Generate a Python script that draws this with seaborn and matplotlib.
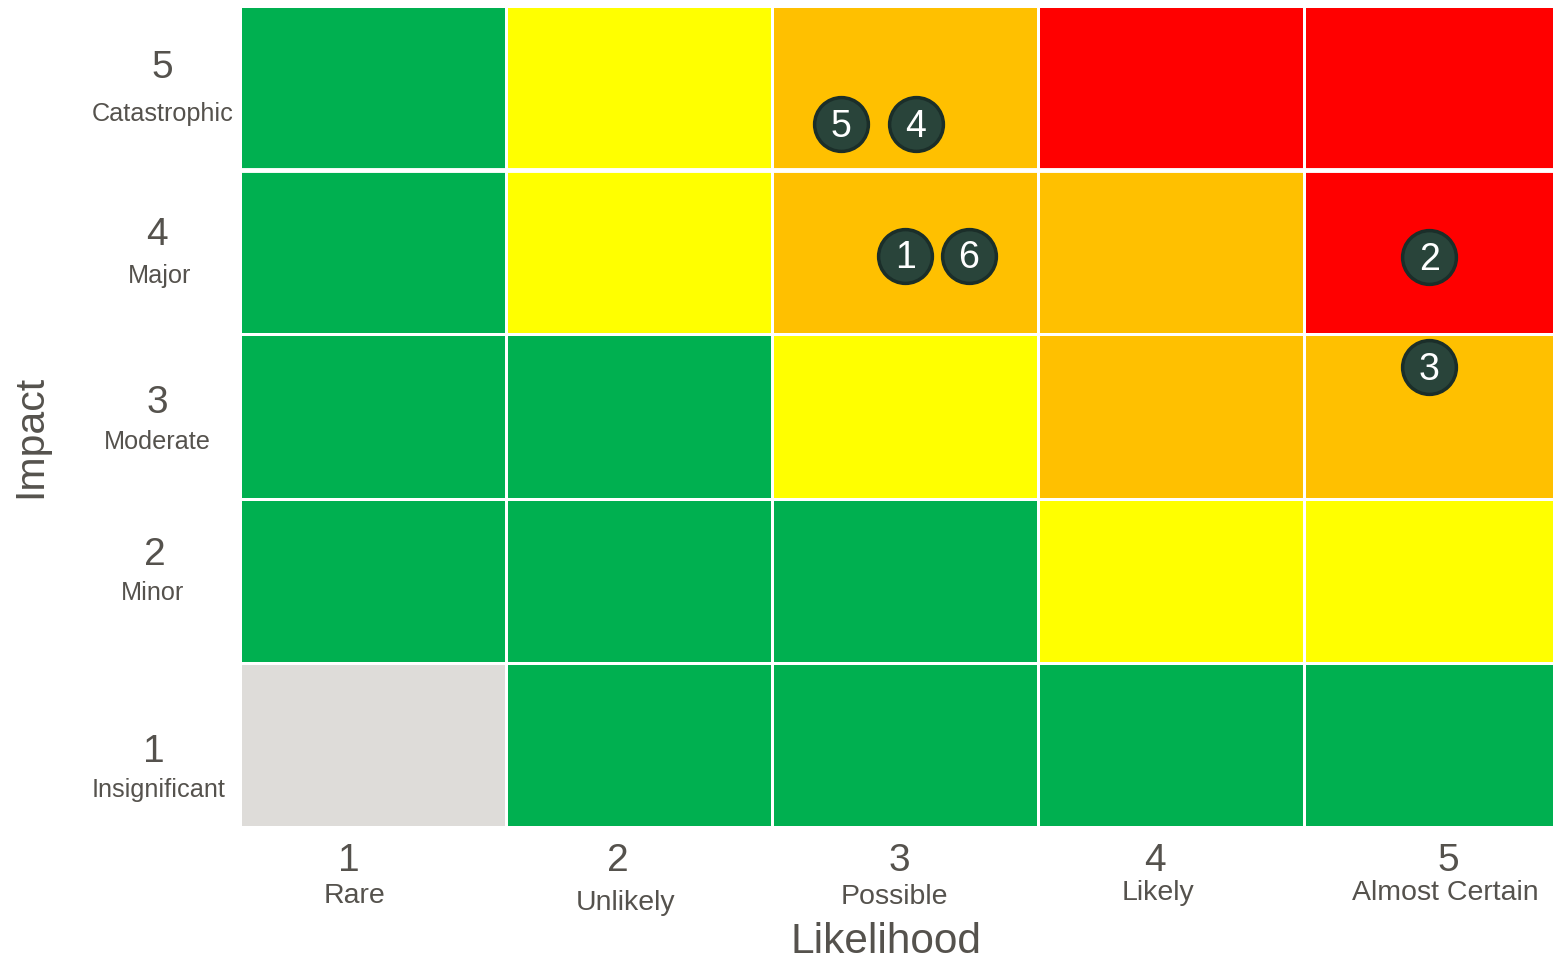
import numpy as np
import pandas as pd
import matplotlib
matplotlib.use("Agg")
import matplotlib.pyplot as plt
from matplotlib.colors import ListedColormap
import seaborn as sns

sns.set_theme(style="white")
plt.rcParams['font.family'] = ['Liberation Sans', 'DejaVu Sans']

# Risk matrix levels: 0 = n/a (grey), 1 = low, 2 = medium, 3 = high, 4 = extreme
likelihood_nums = ['1', '2', '3', '4', '5']
likelihood_names = ['Rare', 'Unlikely', 'Possible', 'Likely', 'Almost Certain']
impact_nums = ['5', '4', '3', '2', '1']
impact_names = ['Catastrophic', 'Major', 'Moderate', 'Minor', 'Insignificant']

level_rows = [
    [1, 2, 3, 4, 4],  # impact 5
    [1, 2, 3, 3, 4],  # impact 4
    [1, 1, 2, 3, 3],  # impact 3
    [1, 1, 1, 2, 2],  # impact 2
    [0, 1, 1, 1, 1],  # impact 1
]
level_colors = ['#DEDCD9', '#00B050', '#FFFF00', '#FFC000', '#FF0000']

# risks placed on the matrix (positions)
risk_ids = ['5', '4', '1', '6', '2', '3']
risk_likelihood = [2.76, 3.04, 3.00, 3.24, 4.97, 4.97]
risk_impact = [4.78, 4.78, 3.98, 3.98, 3.97, 3.30]

text_col = '#55524D'

# label placement tweaks (the original labels sit a little unevenly)
x_num_pos = [0.41, 1.42, 2.48, 3.44, 4.54]
x_name_pos = [0.43, 1.45, 2.46, 3.45, 4.53]
x_name_y = [-0.083, -0.091, -0.084, -0.079, -0.079]
y_num_pos = [0.37, 1.39, 2.41, 3.34, 4.54]
y_name_pos = [0.65, 1.64, 2.65, 3.57, 4.77]
y_num_x = [-0.059, -0.063, -0.063, -0.065, -0.066]
y_name_x = [-0.059, -0.061, -0.063, -0.067, -0.062]

matrix = pd.DataFrame(level_rows, index=impact_nums, columns=likelihood_nums)

fig = plt.figure(figsize=(15.53, 9.62), dpi=100)
ax = fig.add_axes([240 / 1553, 1 - 828 / 962, 1 - 240 / 1553, 821 / 962])

sns.heatmap(matrix, cmap=ListedColormap(level_colors), vmin=-0.5, vmax=4.5,
            cbar=False, linewidths=1.0, linecolor='white',
            xticklabels=False, yticklabels=False, ax=ax)
ax.axhline(1, color='white', lw=3.5)
ax.set_xlim(0, 4.935)
ax.set_ylim(5, 0)

# risk markers
risks = pd.DataFrame({'id': risk_ids,
                      'x': np.array(risk_likelihood) - 0.5,
                      'y': 5.5 - np.array(risk_impact)})
sns.scatterplot(data=risks, x='x', y='y', s=1500, color='#29443A',
                edgecolor='#1B2E29', linewidth=2.5, ax=ax, zorder=5, legend=False)
for _, r in risks.iterrows():
    ax.text(r['x'], r['y'] + 0.01, r['id'], color='white', fontsize=27,
            ha='center', va='center', zorder=6)

ax.set_xlabel('')
ax.set_ylabel('')
ax.set_xticks([])
ax.set_yticks([])

# x tick labels
xtr = ax.get_xaxis_transform()
for i in range(5):
    ax.text(x_num_pos[i], -0.04, likelihood_nums[i], transform=xtr, ha='center',
            va='center', fontsize=28, color=text_col)
    ax.text(x_name_pos[i], x_name_y[i], likelihood_names[i], transform=xtr,
            ha='center', va='center', fontsize=20.5, color=text_col)
ax.text(0.492, -0.139, 'Likelihood', transform=ax.transAxes, ha='center',
        va='center', fontsize=30.5, color=text_col)

# y tick labels
ytr = ax.get_yaxis_transform()
for i in range(5):
    ax.text(y_num_x[i], y_num_pos[i], impact_nums[i], transform=ytr, ha='center',
            va='center', fontsize=28, color=text_col)
    ax.text(y_name_x[i], y_name_pos[i], impact_names[i], transform=ytr,
            ha='center', va='center', fontsize=18.2, color=text_col)
ax.text(-0.16, 0.477, 'Impact', transform=ax.transAxes, ha='center',
        va='center', rotation=90, fontsize=29.5, color=text_col)

for s in ax.spines.values():
    s.set_visible(False)

fig.savefig('out.png', dpi=100, facecolor='white')
